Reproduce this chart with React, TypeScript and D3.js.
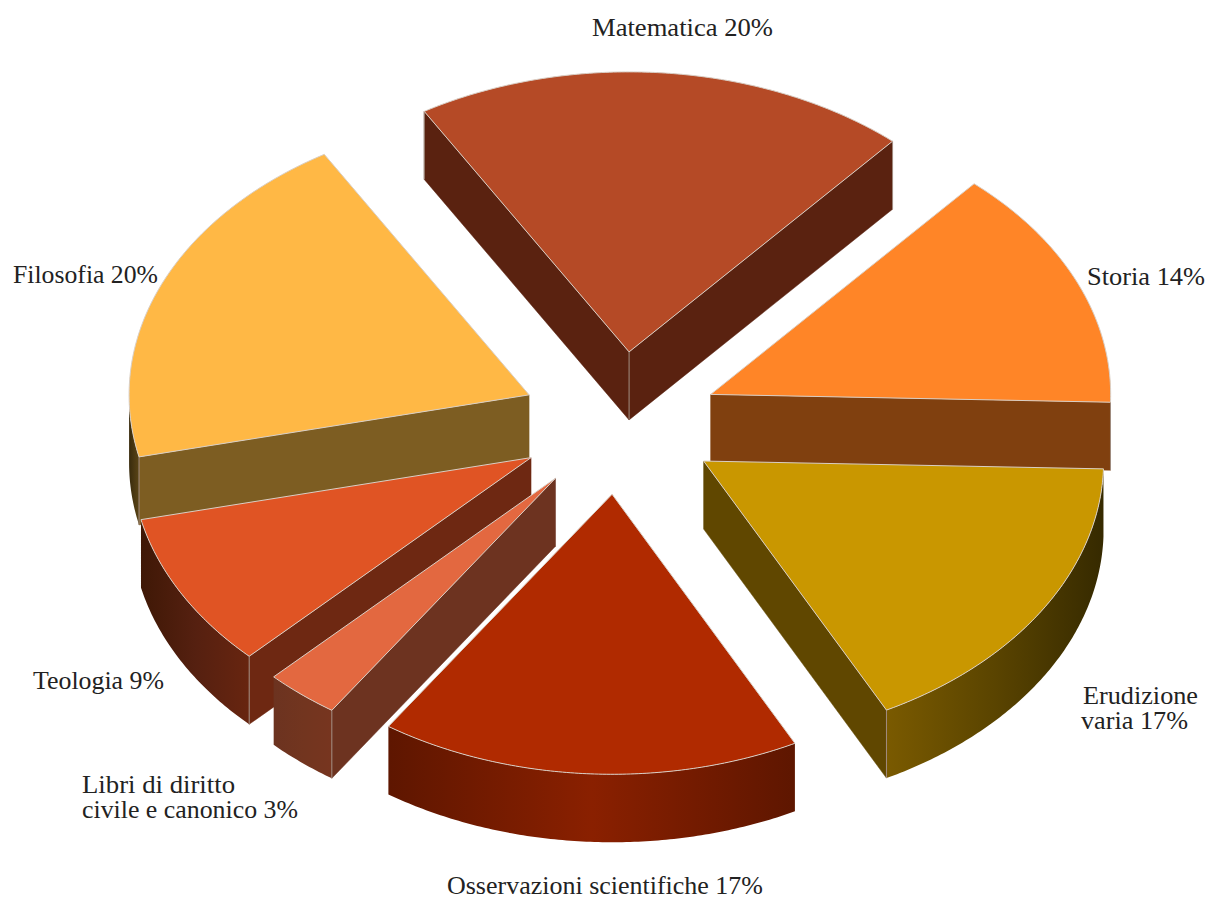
import React from "react";
import * as d3 from "d3";

// ---- data, clockwise from the right-hand side of the pie
const sliceNames = ["Erudizione varia", "Osservazioni scientifiche", "Libri di diritto civile e canonico", "Teologia", "Filosofia", "Matematica", "Storia"];
const sliceValues = [17, 17, 3, 9, 20, 20, 14];
const topColors = ["#c99700", "#b02a00", "#e36840", "#e05424", "#ffb845", "#b54a26", "#ff8527"];
const wallColors = ["#604700", "#5e1600", "#6d3320", "#6e2812", "#7d5d22", "#5a2210", "#80400f"];
const rimStops = [
  ["#7a5a00", "#5a4400", "#362a00"],
  ["#5e1600", "#8a2000", "#5e1600"],
  ["#6c3320", "#72351f", "#77351f"],
  ["#3f1806", "#552010", "#682510"],
  ["#382a0c", "#4a3812", "#5a4415"],
  ["#5a2210", "#5a2210", "#5a2210"],
  ["#80400f", "#80400f", "#80400f"],
];
const paintOrder = [5, 4, 6, 0, 3, 2, 1];
const labelLines = [
  { text: "Matematica 20%", x: 592, w: 181, y: 36 },
  { text: "Storia 14%", x: 1087, w: 118, y: 285 },
  { text: "Filosofia 20%", x: 13, w: 145, y: 283 },
  { text: "Erudizione", x: 1083, w: 115, y: 704 },
  { text: "varia 17%", x: 1081, w: 107, y: 729 },
  { text: "Teologia 9%", x: 33, w: 131, y: 689 },
  { text: "Libri di diritto", x: 82, w: 153, y: 793 },
  { text: "civile e canonico 3%", x: 82, w: 216, y: 818 },
  { text: "Osservazioni scientifiche 17%", x: 447, w: 316, y: 893.5 },
];

// ---- layout
const W = 1208, H = 899;
const CX = 620, CY = 423, RX = 400, RY = 280, DEPTH = 68;
const EXPLODE_X = 0.25, EXPLODE_Y = 0.255;
const NUDGE_X = [-1, -2, -1, -1.5, 1, 0, -1];
const START = (1.6 * Math.PI) / 180;

const pie = d3.pie<number>().sort(null).startAngle(START).endAngle(START + 2 * Math.PI);
const arcs = pie(sliceValues);
const line = d3.line<[number, number]>().x((p) => p[0]).y((p) => p[1]);

type Pt = [number, number];

function arcPoints(ax: number, ay: number, t0: number, t1: number, dy = 0): Pt[] {
  const n = Math.max(2, Math.ceil(Math.abs(t1 - t0) / 0.01));
  const t = d3.scaleLinear().domain([0, n]).range([t0, t1]);
  return d3.range(n + 1).map((i) => [ax + RX * Math.cos(t(i)), ay + dy + RY * Math.sin(t(i))] as Pt);
}

// Parts of [t0,t1] where the outer wall faces the viewer (sin t > 0)
function frontRanges(t0: number, t1: number): [number, number][] {
  const out: [number, number][] = [];
  for (const k of [0, 1, 2]) {
    const a = Math.max(t0, 2 * Math.PI * (k - 1) + 0), b = Math.min(t1, 2 * Math.PI * (k - 1) + Math.PI);
    if (b > a) out.push([a, b]);
  }
  return out;
}

const EDGE = "#d9cfc6";
const VEDGE = "#a08c80";

function Slice({ i }: { i: number }) {
  const a = arcs[i];
  const t0 = a.startAngle, t1 = a.endAngle, mid = (t0 + t1) / 2;
  const ax = CX + RX * EXPLODE_X * Math.cos(mid) + NUDGE_X[i];
  const ay = CY + RY * EXPLODE_Y * Math.sin(mid);
  const pt = (t: number): Pt => [ax + RX * Math.cos(t), ay + RY * Math.sin(t)];
  const walls: React.ReactNode[] = [];
  const wallFor = (t: number, key: string) => {
    const p = pt(t);
    walls.push(
      <path key={key} d={line([[ax, ay], p, [p[0], p[1] + DEPTH], [ax, ay + DEPTH]])! + "Z"} fill={wallColors[i]} stroke={wallColors[i]} strokeWidth={0.5} />
    );
  };
  if (Math.cos(t0) < 0) wallFor(t0, "s");
  if (Math.cos(t1) > 0) wallFor(t1, "e");

  const rims = frontRanges(t0, t1).map(([r0, r1], k) => {
    const top = arcPoints(ax, ay, r0, r1);
    const bot = arcPoints(ax, ay, r0, r1, DEPTH).reverse();
    const xs = top.map((p) => p[0]);
    const id = `rim-${i}-${k}`;
    return (
      <g key={id}>
        <linearGradient id={id} gradientUnits="userSpaceOnUse" x1={d3.min(xs)} x2={d3.max(xs)} y1={0} y2={0}>
          {rimStops[i].map((c, j) => (
            <stop key={j} offset={j / 2} stopColor={c} />
          ))}
        </linearGradient>
        <path d={line([...top, ...bot])! + "Z"} fill={`url(#${id})`} />
      </g>
    );
  });

  const verticals: Pt[] = [[ax, ay]];
  if (Math.cos(t0) < 0) verticals.push(pt(t0));
  if (Math.cos(t1) > 0) verticals.push(pt(t1));
  const topPath = line([[ax, ay], ...arcPoints(ax, ay, t0, t1)])! + "Z";

  return (
    <g>
      {walls}
      {rims}
      {verticals.map((p, k) => (
        <line key={k} x1={p[0]} x2={p[0]} y1={p[1]} y2={p[1] + DEPTH} stroke={VEDGE} strokeWidth={k === 0 && !(Math.cos(t0) < 0 && Math.cos(t1) > 0) ? 0 : 1} />
      ))}
      <path d={topPath} fill={topColors[i]} stroke={EDGE} strokeWidth={1} strokeLinejoin="miter" />
    </g>
  );
}

export default function App() {
  return (
    <svg width={W} height={H} viewBox={`0 0 ${W} ${H}`} style={{ position: "absolute", left: 0, top: 0, display: "block", background: "#fff" }}>
      {paintOrder.map((i) => (
        <Slice key={sliceNames[i]} i={i} />
      ))}
      {labelLines.map((l) => (
        <text key={l.text} x={l.x} y={l.y} textLength={l.w} lengthAdjust="spacingAndGlyphs" fontFamily="'Liberation Serif', serif" fontSize={25} fill="#222">
          {l.text}
        </text>
      ))}
    </svg>
  );
}
